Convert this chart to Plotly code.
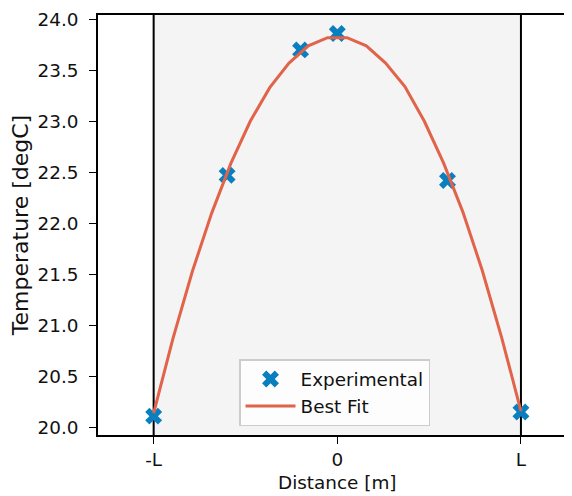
import plotly.graph_objects as go

# Experimental data
exp_x = [-1.0, -0.6, -0.2, 0.0, 0.6, 1.0]
exp_y = [20.11, 22.47, 23.70, 23.86, 22.42, 20.15]

# Best fit curve
fit_x = [-1.0, -0.895, -0.789, -0.684, -0.579, -0.474, -0.368, -0.263, -0.158, -0.053,
         0.053, 0.158, 0.263, 0.368, 0.474, 0.579, 0.684, 0.789, 0.895, 1.0]
fit_y = [20.14, 20.87, 21.53, 22.10, 22.59, 23.00, 23.33, 23.57, 23.74, 23.82,
         23.82, 23.74, 23.57, 23.34, 23.00, 22.59, 22.11, 21.54, 20.88, 20.16]

tick_vals = [-1, 0, 1]
tick_text = ["-L", "0", "L"]
y_ticks = [20.0, 20.5, 21.0, 21.5, 22.0, 22.5, 23.0, 23.5, 24.0]
x_title = "Distance [m]"
y_title = "Temperature [degC]"

BLUE = "#0a7fc0"
RED = "#e0634a"
FONT = "DejaVu Sans"
FS = 18.4

fig = go.Figure()
fig.add_trace(go.Scatter(x=exp_x, y=exp_y, mode="markers", name="Experimental",
                         marker=dict(symbol="x", size=15, color=BLUE, line=dict(width=0))))
fig.add_trace(go.Scatter(x=fit_x, y=fit_y, mode="lines", name="Best Fit",
                         line=dict(color=RED, width=3)))

fig.add_shape(type="rect", xref="x", yref="paper", x0=-1, x1=1, y0=0, y1=1,
              fillcolor="#f4f4f4", line=dict(width=0), layer="below")
for xv in (-1, 1):
    fig.add_shape(type="line", xref="x", yref="paper", x0=xv, x1=xv, y0=0, y1=1,
                  line=dict(color="black", width=2), layer="below")

# x-axis title as annotation (keeps it just inside the visible page)
fig.add_annotation(text=x_title, xref="x", yref="paper", x=0, y=0,
                   xanchor="center", yanchor="top", yshift=-35, showarrow=False,
                   font=dict(family=FONT, size=FS, color="#111111"))

fig.update_layout(
    width=572, height=496,
    margin=dict(l=90, r=8, t=7, b=69),
    plot_bgcolor="white", paper_bgcolor="white",
    font=dict(family=FONT, size=FS, color="#111111"),
    showlegend=True,
    legend=dict(x=0.2975, y=0.0214, xanchor="left", yanchor="bottom",
                bgcolor="rgba(255,255,255,0.8)", bordercolor="#cccccc", borderwidth=1.5,
                itemwidth=50, font=dict(size=FS)),
    xaxis=dict(range=[-1.303, 1.278], tickvals=tick_vals, ticktext=tick_text,
               automargin=False,
               showgrid=False, zeroline=False, showline=True, linecolor="black", linewidth=1.5,
               mirror=True, ticks="outside", ticklen=7, tickwidth=1.3, tickcolor="black",
               ticklabelstandoff=0),
    yaxis=dict(range=[19.925, 24.042], tickvals=y_ticks, tickformat=".1f",
               automargin=False,
               showgrid=False, zeroline=False, showline=True, linecolor="black", linewidth=1.5,
               ticks="outside", ticklen=7, tickwidth=1.3, tickcolor="black",
               ticklabelstandoff=7,
               title=dict(text=y_title, standoff=3)),
)

fig.write_html("out.html")
